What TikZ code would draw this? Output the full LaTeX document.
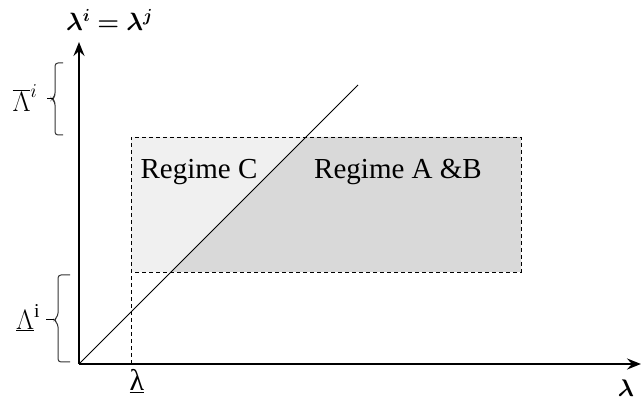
\RequirePackage{fix-cm}
\documentclass[tikz,border=0pt]{standalone}
\usepackage{fontspec}
\setmainfont{Liberation Serif}
\usepackage{bm}
\usetikzlibrary{arrows.meta}
\definecolor{lightreg}{HTML}{F0F0F0}
\definecolor{darkreg}{HTML}{D9D9D9}
\tikzset{
  axis/.style={line width=2.4pt,-{Stealth[length=14pt,width=11pt,inset=5pt]}},
  dashline/.style={line width=0.9pt,dash pattern=on 4pt off 3pt},
  bracepath/.style={line width=1pt,black!80,rounded corners=3pt},
  regimetext/.style={font=\fontsize{29}{32}\selectfont,inner sep=0pt},
  mathlabel/.style={font=\fontsize{25}{28}\selectfont,inner sep=0pt}
}
\begin{document}
\begin{tikzpicture}[x=1pt,y=-1pt]
\useasboundingbox (0,0) rectangle (641,401);
% key coordinates
\coordinate (O) at (79,364);
\coordinate (ytop) at (79,42);
\coordinate (xend) at (641,364);
\coordinate (dend) at (358,85);
\coordinate (tl) at (131,137);
\coordinate (tr) at (521,137);
\coordinate (br) at (521,272);
\coordinate (bl) at (131,272);
\coordinate (cross1) at (306,137);
\coordinate (cross2) at (171,272);
\coordinate (vbot) at (131,364);
% fills
\fill[lightreg] (tl) -- (cross1) -- (cross2) -- (bl) -- cycle;
\fill[darkreg] (cross1) -- (tr) -- (br) -- (cross2) -- cycle;
% dashed box
\draw[dashline] (vbot) -- (tl) -- (tr) -- (br) -- (bl);
% diagonal
\draw[line width=0.9pt] (O) -- (dend);
% axes
\draw[axis] (O) -- (ytop);
\draw[axis] (O) -- (xend);
% braces
\draw[bracepath] (63,63) -- (55,63) -- (55,96) -- (52,99) -- (55,102) -- (55,135) -- (63,135);
\draw[line width=1pt] (53,99) -- (47,99);
\draw[bracepath] (70,275) -- (58,275) -- (58,316) -- (54,320) -- (58,324) -- (58,362) -- (70,362);
\draw[line width=1pt] (54,320) -- (46,320);
% labels
\node[mathlabel,anchor=base west] (toplab) at (66,31) {$\bm{\lambda^{i}=\lambda^{j}}$};
\node[mathlabel,font=\fontsize{24}{28}\selectfont] (xlab) at (626,388) {$\bm{\lambda}$};
\node[mathlabel,font=\fontsize{30}{34}\selectfont] (lamlow) at (137,381) {\underline{λ}};
\node[mathlabel,font=\fontsize{28}{32}\selectfont] (Lup) at (25,98) {$\overline{\Lambda}^{i}$};
\node[mathlabel,font=\fontsize{28}{32}\selectfont] (Llow) at (28,318) {$\underline{\Lambda}^{\mathrm{i}}$};
\node[regimetext] (regC) at (199,172) {Regime C};
\node[regimetext] (regAB) at (398,172) {Regime A \&B};
\end{tikzpicture}
\end{document}
